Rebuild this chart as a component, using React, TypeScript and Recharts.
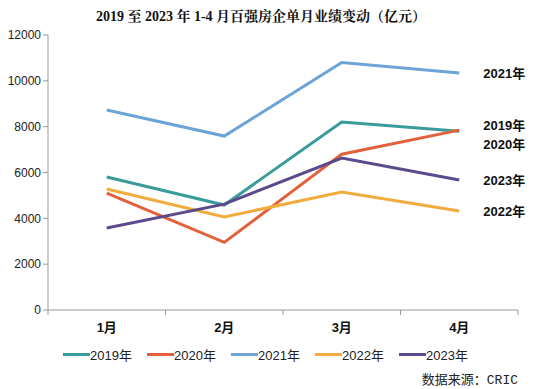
import { LabelList, Line, LineChart, XAxis, YAxis } from "recharts";

const MONTHS = ["1月", "2月", "3月", "4月"];
const Y_TICKS = [0, 2000, 4000, 6000, 8000, 10000, 12000];

const S2019 = [5800, 4580, 8200, 7800];
const S2020 = [5100, 2950, 6800, 7850];
const S2021 = [8730, 7590, 10800, 10340];
const S2022 = [5280, 4060, 5150, 4320];
const S2023 = [3580, 4620, 6630, 5670];

const SERIES = [
  { key: "y2019", name: "2019年", values: S2019, color: "#3a9b9b", dy: -6 },
  { key: "y2020", name: "2020年", values: S2020, color: "#e2603b", dy: 14 },
  { key: "y2021", name: "2021年", values: S2021, color: "#6ca4d8", dy: 0 },
  { key: "y2022", name: "2022年", values: S2022, color: "#f0ac3c", dy: 0 },
  { key: "y2023", name: "2023年", values: S2023, color: "#5b4a8c", dy: 0 }
];

const data = MONTHS.map((month, i) => {
  const row: Record<string, string | number> = { month };
  for (const s of SERIES) row[s.key] = s.values[i];
  return row;
});

const W = 540;
const H = 389;
const M = { top: 35, right: 22, bottom: 49, left: 0 };
const Y_W = 48;
const BAND = (W - M.left - M.right - Y_W) / MONTHS.length;

function MonthTick(props: { x?: number; y?: number; payload?: { value: string }; index?: number }) {
  const { x = 0, y = 0, payload, index = 0 } = props;
  const top = y - 8;
  return (
    <g>
      <line x1={x - BAND / 2} y1={top} x2={x - BAND / 2} y2={top + 5} stroke="#999" />
      {index === MONTHS.length - 1 && (
        <line x1={x + BAND / 2} y1={top} x2={x + BAND / 2} y2={top + 5} stroke="#999" />
      )}
      <text x={x} y={y + 14} textAnchor="middle" fontSize={13} fontWeight="bold" fill="#111">
        {payload?.value}
      </text>
    </g>
  );
}

function endLabel(name: string, dy: number) {
  return (props: { x?: number; y?: number; index?: number }) => {
    if (props.index !== MONTHS.length - 1) return null;
    return (
      <text
        x={(props.x ?? 0) + 24}
        y={(props.y ?? 0) + dy}
        dy={5}
        fontSize={13}
        fontWeight="bold"
        fill="#111"
      >
        {name}
      </text>
    );
  };
}

export default function App() {
  return (
    <div
      style={{
        position: "absolute",
        left: 0,
        top: 0,
        width: W,
        height: H,
        background: "#fff",
        fontFamily: "'Liberation Sans', Arial, 'Noto Sans CJK SC', sans-serif"
      }}
    >
      <div
        style={{
          position: "absolute",
          top: 5,
          left: 0,
          width: 522,
          textAlign: "center",
          fontFamily: "'Liberation Serif', 'Noto Serif CJK SC', 'Noto Sans CJK SC', serif",
          fontWeight: "bold",
          fontSize: 14,
          color: "#111"
        }}
      >
        2019 至 2023 年 1-4 月百强房企单月业绩变动（亿元）
      </div>
      <LineChart width={W} height={H} data={data} margin={M}>
        <XAxis
          dataKey="month"
          height={30}
          stroke="#999"
          tickLine={false}
          tick={<MonthTick />}
          interval={0}
          padding={{ left: BAND / 2, right: BAND / 2 }}
        />
        <YAxis
          width={Y_W}
          domain={[0, 12000]}
          ticks={Y_TICKS}
          stroke="#999"
          tickSize={5}
          tick={{ fill: "#222", fontSize: 12 }}
        />
        {SERIES.map((s) => (
          <Line
            key={s.key}
            dataKey={s.key}
            name={s.name}
            type="linear"
            stroke={s.color}
            strokeWidth={3}
            dot={false}
            activeDot={false}
            isAnimationActive={false}
          >
            <LabelList dataKey={s.key} content={endLabel(s.name, s.dy)} />
          </Line>
        ))}
      </LineChart>
      <div
        style={{
          position: "absolute",
          top: 345,
          left: 63,
          display: "flex",
          fontSize: 13,
          color: "#222"
        }}
      >
        {SERIES.map((s) => (
          <div key={s.key} style={{ display: "flex", alignItems: "center", width: 84 }}>
            <span style={{ display: "inline-block", width: 27, height: 3, background: s.color }} />
            <span>{s.name}</span>
          </div>
        ))}
      </div>
      <div
        style={{
          position: "absolute",
          top: 369,
          right: 22,
          fontSize: 13,
          color: "#222",
          fontFamily: "'Liberation Mono', 'Noto Sans CJK SC', monospace"
        }}
      >
        数据来源：CRIC
      </div>
    </div>
  );
}
